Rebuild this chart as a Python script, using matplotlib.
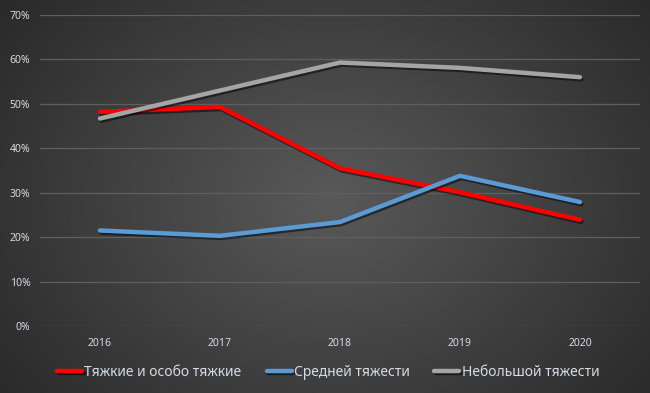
import numpy as np
import matplotlib
matplotlib.use("Agg")
import matplotlib.pyplot as plt
import matplotlib.patheffects as pe
from matplotlib.ticker import PercentFormatter

# Data
years = ["2016", "2017", "2018", "2019", "2020"]
heavy = [0.482, 0.493, 0.355, 0.301, 0.239]
medium = [0.215, 0.203, 0.234, 0.338, 0.279]
light = [0.467, 0.530, 0.593, 0.581, 0.560]
labels = ["Тяжкие и особо тяжкие", "Средней тяжести", "Небольшой тяжести"]
colors = ["#ff0000", "#5b9bd5", "#a5a5a5"]

plt.rcParams['font.family'] = ['Noto Sans', 'DejaVu Sans']
txt = "#d4dbe3"

fig = plt.figure(figsize=(6.5, 3.93), dpi=100)

# radial gradient background
bg = fig.add_axes([0, 0, 1, 1], zorder=-10)
yy, xx = np.mgrid[0:393, 0:650]
r = np.sqrt(((xx - 330) / 420.0) ** 2 + ((yy - 200) / 330.0) ** 2)
r = np.clip(r, 0, 1)
c0, c1 = 0.35, 0.16
shade = c0 + (c1 - c0) * r
bg.imshow(np.dstack([shade] * 3), aspect='auto', extent=[0, 1, 0, 1])
bg.axis('off')

ax = fig.add_axes([40 / 650, (393 - 326) / 393, 600 / 650, 311 / 393])
ax.patch.set_alpha(0)
x = np.arange(len(years))
shadow = [pe.SimpleLineShadow(offset=(1, -1.5), shadow_color='black', alpha=0.5), pe.Normal()]
for vals, lab, col in zip([heavy, medium, light], labels, colors):
    ax.plot(x, vals, color=col, lw=3.2, label=lab, solid_capstyle='round',
            solid_joinstyle='round', path_effects=shadow)

ax.set_xlim(-0.5, 4.5)
ax.set_ylim(0, 0.7)
ax.set_yticks(np.arange(0, 0.71, 0.1))
ax.yaxis.set_major_formatter(PercentFormatter(1.0, decimals=0))
ax.set_xticks(x)
ax.set_xticklabels(years)
ax.grid(axis='y', color='#5f5f5f', lw=0.9)
ax.set_axisbelow(True)
for s in ax.spines.values():
    s.set_visible(False)
ax.tick_params(length=0, colors=txt, labelsize=7.5)
ax.tick_params(axis='x', pad=9)
ax.tick_params(axis='y', pad=7)

leg = fig.legend(loc='center', bbox_to_anchor=(0.505, (393 - 372) / 393), ncol=3,
                 frameon=False, fontsize=10, handlelength=1.8, columnspacing=1.8,
                 handletextpad=0.15, labelcolor=txt)

fig.savefig("out.png", dpi=100)
